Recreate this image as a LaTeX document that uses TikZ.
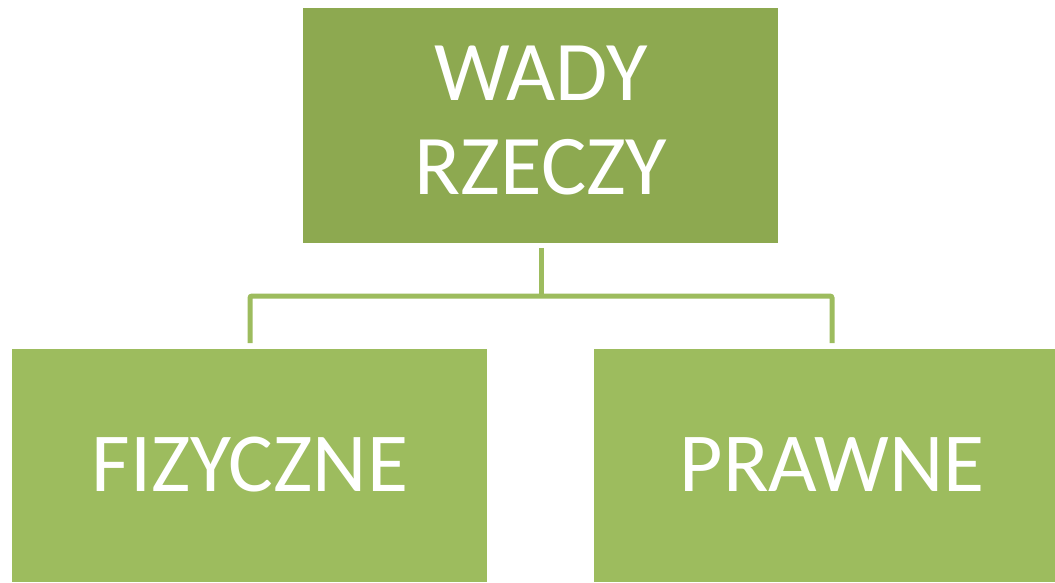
\documentclass[tikz,border=0pt]{standalone}
\usepackage{fontspec}
\setmainfont{Carlito}
\definecolor{topgreen}{HTML}{8DA950}
\definecolor{botgreen}{HTML}{9DBC5E}
\definecolor{linegreen}{HTML}{9DBC5E}
\begin{document}
\begin{tikzpicture}[x=1pt,y=1pt,
  boxstyle/.style={draw=none,inner sep=0pt,outer sep=0pt},
  txt/.style={text=white,anchor=base,inner sep=0pt},
  conn/.style={draw=linegreen,line width=5pt,rounded corners=2pt}]
\useasboundingbox (0,0) rectangle (1055,582);
\fill[topgreen] (303,339) rectangle (778,574);
\node[boxstyle,minimum width=475pt,minimum height=235pt] (top) at (540.5,456.5) {};
\fill[botgreen] (12,0) rectangle (487,233);
\node[boxstyle,minimum width=475pt,minimum height=233pt] (left) at (249.5,116.5) {};
\fill[botgreen] (594,0) rectangle (1055,233);
\node[boxstyle,minimum width=461pt,minimum height=233pt] (right) at (824.5,116.5) {};
\node[txt,font=\fontsize{85}{94}\selectfont] (t1) at (541,481) {WADY};
\node[txt,font=\fontsize{85}{94}\selectfont] (t2) at (541,387) {RZECZY};
\node[txt,font=\fontsize{84}{100}\selectfont] (t3) at (250,91) {FIZYCZNE};
\node[txt,font=\fontsize{84}{100}\selectfont] (t4) at (832,91) {PRAWNE};
\coordinate (a) at (541,334);
\coordinate (b) at (541,286);
\coordinate (c) at (250,239);
\coordinate (d) at (832,239);
\draw[conn] (a) -- (b);
\draw[conn] (c) -- (c |- b) -- (d |- b) -- (d);
\end{tikzpicture}
\end{document}
